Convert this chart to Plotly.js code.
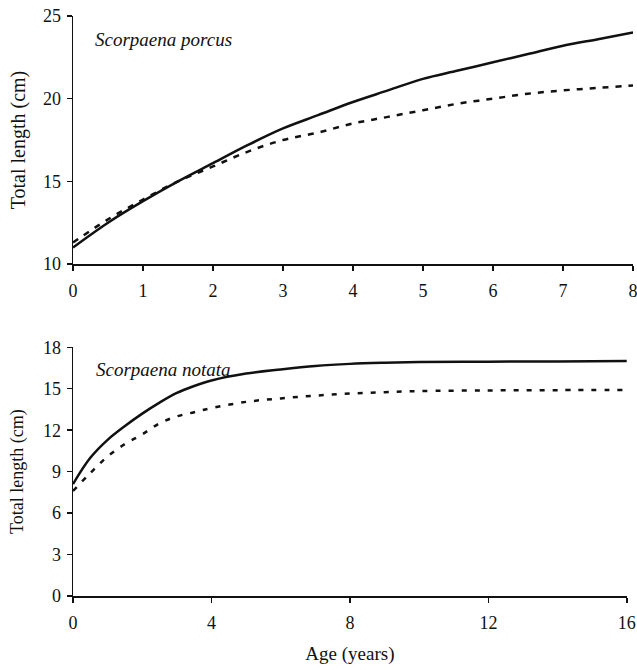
<!DOCTYPE html>
<html>
<head>
<meta charset="utf-8">
<script src="https://cdn.plot.ly/plotly-3.0.1.min.js"></script>
<style>html,body{margin:0;padding:0;background:#fff;}#chart{width:637px;height:670px;}</style>
</head>
<body>
<div id="chart"></div>
<script>
// Scorpaena porcus (top panel)
const porcusAge = [0, 0.5, 1, 1.5, 2, 2.5, 3, 3.5, 4, 4.5, 5, 5.5, 6, 6.5, 7, 7.5, 8];
const porcusSolid = [11.0, 12.5, 13.8, 15.0, 16.1, 17.2, 18.2, 19.0, 19.8, 20.5, 21.2, 21.7, 22.2, 22.7, 23.2, 23.6, 24.0];
const porcusDashed = [11.3, 12.7, 13.9, 15.0, 15.9, 16.8, 17.5, 17.95, 18.5, 18.9, 19.3, 19.7, 20.0, 20.3, 20.5, 20.65, 20.8];

// Scorpaena notata (bottom panel)
const notataAge = [0, 0.5, 1, 1.5, 2, 2.5, 3, 3.5, 4, 5, 6, 7, 8, 9, 10, 12, 14, 16];
const notataSolid = [8.1, 10.0, 11.3, 12.3, 13.2, 14.0, 14.7, 15.2, 15.6, 16.1, 16.4, 16.65, 16.8, 16.88, 16.93, 16.96, 16.98, 17.0];
const notataDashed = [7.6, 8.9, 10.1, 11.0, 11.7, 12.5, 13.0, 13.3, 13.6, 14.05, 14.3, 14.5, 14.65, 14.75, 14.83, 14.88, 14.9, 14.9];

const topXTicks = [0, 1, 2, 3, 4, 5, 6, 7, 8];
const topYTicks = [10, 15, 20, 25];
const botXTicks = [0, 4, 8, 12, 16];
const botYTicks = [0, 3, 6, 9, 12, 15, 18];

const FONT = "'Liberation Serif', 'Times New Roman', serif";
const INK = '#111';

const traces = [
  {x: porcusAge, y: porcusSolid, xaxis: 'x', yaxis: 'y', mode: 'lines', line: {color: INK, width: 2.5, shape: 'spline'}},
  {x: porcusAge, y: porcusDashed, xaxis: 'x', yaxis: 'y', mode: 'lines', line: {color: INK, width: 2.5, dash: '6px,7px', shape: 'spline'}},
  {x: notataAge, y: notataSolid, xaxis: 'x2', yaxis: 'y2', mode: 'lines', line: {color: INK, width: 2.5, shape: 'spline'}},
  {x: notataAge, y: notataDashed, xaxis: 'x2', yaxis: 'y2', mode: 'lines', line: {color: INK, width: 2.5, dash: '5px,8px', shape: 'spline'}}
];

const axisCommon = {
  showline: true, linecolor: INK, linewidth: 1.5,
  ticks: 'outside', ticklen: 5, tickwidth: 1.5, tickcolor: INK,
  showgrid: false, zeroline: false,
  ticklabeloverflow: 'allow',
  tickfont: {family: FONT, size: 18, color: INK}
};

const layout = {
  width: 637, height: 670,
  margin: {l: 73, r: 4, t: 16, b: 74},
  paper_bgcolor: '#fff', plot_bgcolor: '#fff',
  showlegend: false,
  font: {family: FONT, color: INK},
  xaxis: Object.assign({}, axisCommon, {domain: [0, 1], anchor: 'y', range: [0, 8], tickvals: topXTicks, ticktext: topXTicks.map(String), ticklabelstandoff: 5}),
  yaxis: Object.assign({}, axisCommon, {domain: [0.5724, 1], anchor: 'x', range: [10, 25], tickvals: topYTicks, ticktext: topYTicks.map(String), ticklabelstandoff: 2,
    title: {text: 'Total length (cm)', font: {family: FONT, size: 20, color: INK}, standoff: 12}}),
  xaxis2: Object.assign({}, axisCommon, {domain: [0, 0.989], anchor: 'y2', range: [0, 16], tickvals: botXTicks, ticktext: botXTicks.map(String), ticklabelstandoff: 5,
    title: {text: 'Age (years)', font: {family: FONT, size: 19, color: INK}, standoff: 14}}),
  yaxis2: Object.assign({}, axisCommon, {domain: [0, 0.4288], anchor: 'x2', range: [0, 18], tickvals: botYTicks, ticktext: botYTicks.map(String), ticklabelstandoff: 2,
    title: {text: 'Total length (cm)', font: {family: FONT, size: 18, color: INK}, standoff: 14}}),
  annotations: [
    {text: '<i>Scorpaena porcus</i>', xref: 'x', yref: 'y', x: 0.28, y: 23.6, xanchor: 'left', yanchor: 'middle', showarrow: false, font: {family: FONT, size: 19, color: INK}},
    {text: '<i>Scorpaena notata</i>', xref: 'x2', yref: 'y2', x: 0.6, y: 16.4, xanchor: 'left', yanchor: 'middle', showarrow: false, font: {family: FONT, size: 19, color: INK}}
  ]
};

Plotly.newPlot('chart', traces, layout, {displayModeBar: false, staticPlot: true});
</script>
</body>
</html>
